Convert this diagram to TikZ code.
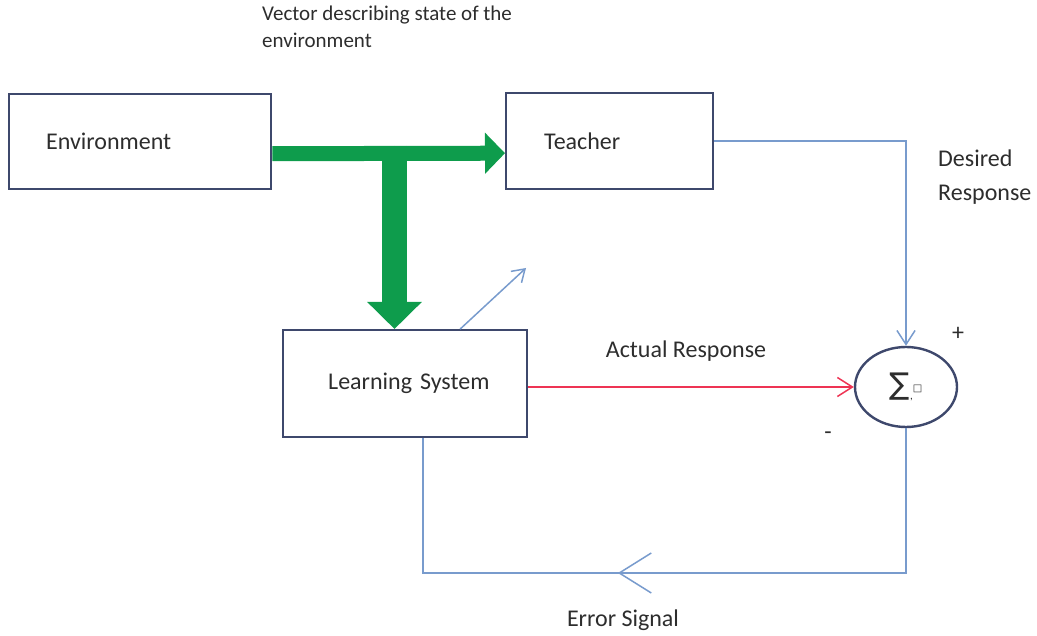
\documentclass[tikz,border=0pt]{standalone}
\usepackage{fontspec}
\setmainfont{Carlito}
\newfontfamily\symfont{DejaVu Sans}
\usetikzlibrary{arrows.meta,shapes.geometric,decorations.markings}

\definecolor{boxline}{RGB}{62,72,108}
\definecolor{flowgreen}{RGB}{14,156,76}
\definecolor{sigblue}{RGB}{120,155,205}
\definecolor{sigred}{RGB}{238,52,84}
\definecolor{txt}{RGB}{45,45,45}

\tikzset{
  block/.style={draw=boxline, line width=2.4pt, anchor=north west, inner sep=0pt,
    align=left, text=txt, font=\fontsize{24}{28}\selectfont},
  caption/.style={text=txt, inner sep=0pt, font=\fontsize{24}{34}\selectfont},
  bigflow/.style={draw=flowgreen, fill=flowgreen, line width=#1},
  sig/.style={draw=sigblue, line width=1.5pt},
  barb/.style={-{Straight Barb[length=#1, width=1.3*#1, line width=1.5pt]}},
}

\begin{document}
\begin{tikzpicture}[x=1pt, y=-1pt]
\useasboundingbox (0,0) rectangle (1037,636);

% blocks
\node[block, minimum width=262pt, minimum height=95pt, text width=188pt]
  (env) at (8,93) {Environment};
\node[block, minimum width=207pt, minimum height=96pt, text width=131pt]
  (teacher) at (505,92) {Teacher};
\node[block, minimum width=244pt, minimum height=107pt, text width=154pt]
  (learn) at (282,329) {\mbox{Learning System}};

% summing junction
\node[draw=boxline, line width=2.4pt, ellipse, minimum width=102pt,
  minimum height=80pt, inner sep=0pt, text=txt] (sum) at (906,387)
  {{\symfont\fontsize{30}{30}\selectfont ∑}\raisebox{-5pt}{\fontsize{11}{11}\selectfont ,}\raisebox{3pt}{\symfont\fontsize{10}{10}\selectfont □}};

% wide flow from the environment
\coordinate (split) at (394.5,146);
\draw[bigflow=15pt, -{Triangle[length=20pt, width=40pt]}]
  ([yshift=-12pt]env.east) -- ([yshift=-12pt]teacher.west);
\draw[bigflow=25pt, -{Triangle[length=27pt, width=53pt]}]
  (split) -- (split |- learn.north);

% adjustable parameter arrow
\coordinate (adj) at (526,268);
\draw[sig, barb=12pt] ([xshift=55pt]learn.north) -- (adj);

% desired response
\draw[sig, barb=14pt] (teacher.east) -| (sum.north);

% actual response
\draw[draw=sigred, line width=1.5pt, -{Straight Barb[length=15pt, width=19pt, line width=1.5pt]}]
  (learn.east |- sum.west) -- (sum.west);

% error signal fed back
\coordinate (eb) at (0,573);
\draw[sig, postaction={decorate}, decoration={markings,
    mark=at position 0.568 with {\arrow[sigblue]{Straight Barb[length=32pt, width=40pt, line width=1.5pt]}}}]
  (sum.south) |- ([xshift=18pt]learn.south |- eb) -- ([xshift=18pt]learn.south);

% labels
\node[caption, anchor=north west, align=left, font=\fontsize{21}{27}\selectfont]
  at (262,6) {Vector describing state of the\\environment};
\node[caption, anchor=west, align=left] at (938,177) {Desired\\Response};
\node[caption] at (686,351) {Actual Response};
\node[caption] at (958,334) {+};
\node[caption] at (828,436) {-};
\node[caption] at (623,620) {Error Signal};
\end{tikzpicture}
\end{document}
